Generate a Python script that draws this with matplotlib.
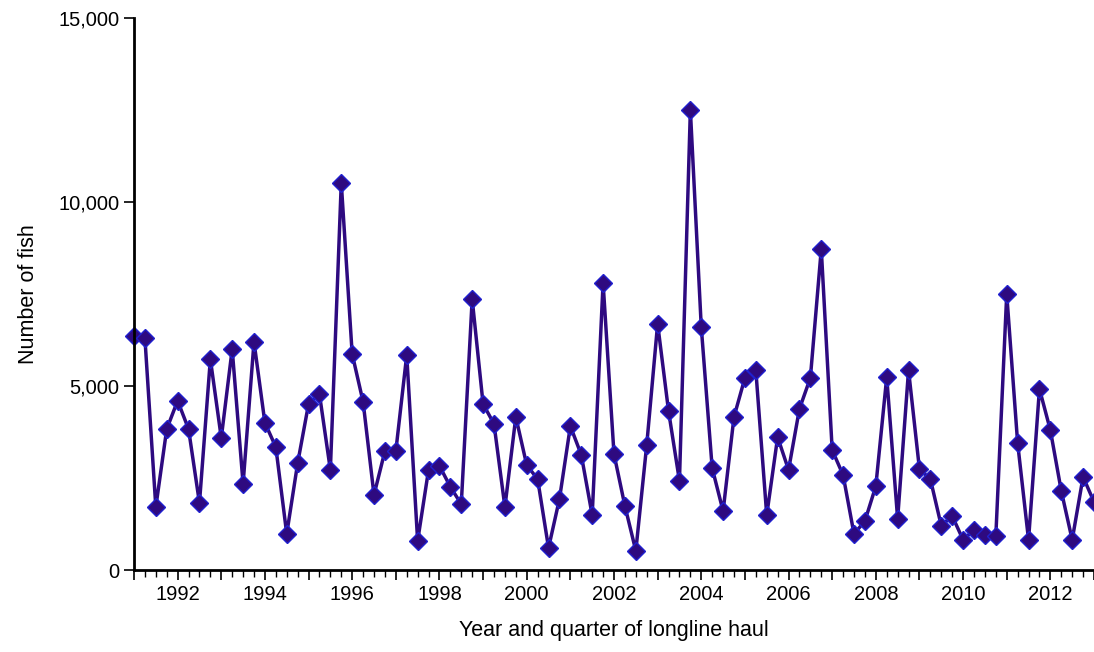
import numpy as np
import matplotlib.pyplot as plt
import matplotlib.ticker as mticker

plt.rcParams['font.family'] = ['Liberation Sans', 'DejaVu Sans']

start_year = 1991
fish = [6360, 6300, 1710, 3830,
        4600, 3830, 1820, 5730,
        3590, 6000, 2340, 6200,
        4000, 3340, 980, 2900,
        4510, 4780, 2720, 10520,
        5870, 4570, 2040, 3230,
        3230, 5840, 790, 2720,
        2830, 2260, 1790, 7360,
        4510, 3970, 1710, 4160,
        2850, 2470, 600, 1930,
        3910, 3130, 1490, 7800,
        3150, 1740, 520, 3400,
        6690, 4320, 2420, 12500,
        6600, 2770, 1600, 4160,
        5220, 5430, 1490, 3610,
        2720, 4380, 5220, 8720,
        3260, 2580, 980, 1330,
        2280, 5240, 1390, 5430,
        2740, 2470, 1200, 1470,
        820, 1090, 950, 920,
        7500, 3450, 820, 4920,
        3800, 2150, 820, 2530,
        1850]
t = start_year + np.arange(len(fish)) * 0.25

fig = plt.figure(figsize=(10.94, 6.52), dpi=100)
ax = fig.add_axes([134/1094, 82/652, 960/1094, 552/652])
ax.plot(t, fish, '-', color='#2E0A80', linewidth=2.5, marker='D', markersize=9,
        markerfacecolor='#2E0A80', markeredgecolor='#2020D0', markeredgewidth=1,
        clip_on=False)

ax.set_xlim(1991, 2013)
ax.set_ylim(0, 15000)
ax.xaxis.set_major_locator(mticker.MultipleLocator(1))
ax.xaxis.set_minor_locator(mticker.MultipleLocator(0.25))
ax.xaxis.set_major_formatter(mticker.FuncFormatter(
    lambda v, p: f'{int(round(v))}' if int(round(v)) % 2 == 0 and v < 2013 else ''))
ax.yaxis.set_major_locator(mticker.MultipleLocator(5000))
ax.yaxis.set_major_formatter(mticker.FuncFormatter(lambda v, p: f'{int(v):,}'))

for s in ['top', 'right']:
    ax.spines[s].set_visible(False)
for s in ['left', 'bottom']:
    ax.spines[s].set_linewidth(2)
ax.tick_params(axis='both', which='major', direction='out', length=7, width=1.2,
               labelsize=14.5, colors='black')
ax.tick_params(axis='x', which='minor', direction='out', length=5, width=1)
ax.set_xlabel('Year and quarter of longline haul', fontsize=15.5, labelpad=12)
ax.set_ylabel('Number of fish', fontsize=15.5, labelpad=14)

fig.savefig('out.png', dpi=100)
